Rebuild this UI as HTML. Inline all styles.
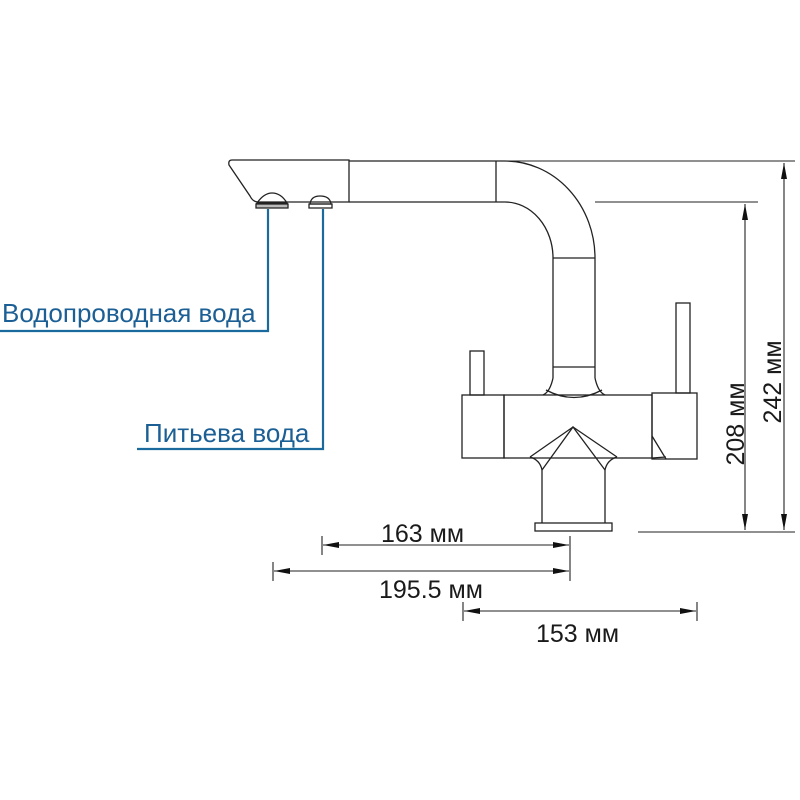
<!DOCTYPE html>
<html><head><meta charset="utf-8"><style>body{margin:0;background:#fff}svg{display:block}</style></head>
<body>
<svg width="800" height="800" viewBox="0 0 800 800" xmlns="http://www.w3.org/2000/svg" font-family="Liberation Sans, sans-serif">
<defs>
<marker id="a" viewBox="0 0 10 10" refX="10" refY="5" markerWidth="16" markerHeight="6" markerUnits="userSpaceOnUse" orient="auto-start-reverse" preserveAspectRatio="none"><path d="M0,0L10,5L0,10z" fill="#111"/></marker>
</defs>
<g fill="none" stroke="#222" stroke-width="1.3">
<path d="M232,160 L349,160 L349,202 L258,202 Q253,202 250,196 L229,165 Q228,160 232,160 Z"/>
<path d="M349,161 L496,161 M349,202 L496,202 M496,161 L496,202"/>
<path d="M257,203 Q264,193 272,193 Q281,193 287,203 Z"/>
<path d="M256,204 L288,204 L288,208 L256,208 Z" fill="#bbb"/>
<path d="M310,204 Q311,196 320,196 Q330,196 331,204 Z"/>
<path d="M309,204 L332,204 L332,208 L309,208 Z"/>
<path d="M496,161 L505,161 A90,97 0 0 1 595,258 L595,378"/>
<path d="M496,202 L505,202 A48,56 0 0 1 553,258 L553,378"/>
<path d="M553,258 L595,258 M553,367 L595,367"/>
<path d="M553,378 Q550,392 543,395 M595,378 Q598,392 605,395"/>
<path d="M546,390 Q574,405 602,390"/>
<rect x="462" y="395" width="42" height="63"/>
<rect x="504" y="395" width="148" height="63"/>
<rect x="652" y="393" width="45" height="66"/>
<path d="M652,436 L666,459 M652,458 L666,457"/>
<rect x="470" y="351" width="14" height="44"/>
<rect x="676" y="303" width="14" height="90"/>
<path d="M530,457 L573,427 L617,457"/>
<path d="M542,470 L573,427 L605,470"/>
<path d="M530,457 Q540,460 542,470 M617,457 Q607,460 605,470"/>
<path d="M542,470 L542,523 M605,470 L605,523"/>
<rect x="535" y="523" width="77" height="8"/>
</g>
<g stroke="#222" stroke-width="1.1" fill="none">
<path d="M496,161 L795,161 M595,202 L758,202 M638,532 L795,532"/>
<path d="M745,204 L745,530" marker-start="url(#a)" marker-end="url(#a)"/>
<path d="M784,163 L784,530" marker-start="url(#a)" marker-end="url(#a)"/>
<path d="M322,536 L322,555 M570,536 L570,581 M273,562 L273,581 M463,602 L463,621 M697,602 L697,621"/>
<path d="M323,545 L569,545" marker-start="url(#a)" marker-end="url(#a)"/>
<path d="M274,571 L569,571" marker-start="url(#a)" marker-end="url(#a)"/>
<path d="M464,611 L696,611" marker-start="url(#a)" marker-end="url(#a)"/>
</g>
<g font-size="25" fill="#1a1a1a">
<text x="381" y="542">163 мм</text>
<text x="379" y="598">195.5 мм</text>
<text x="536" y="642">153 мм</text>
<text transform="translate(744,424) rotate(-90)" text-anchor="middle">208 мм</text>
<text transform="translate(781,382) rotate(-90)" text-anchor="middle">242 мм</text>
</g>
<g stroke="#1b6a9e" stroke-width="2.2" fill="none">
<path d="M268,209 L268,331 L0,331"/>
<path d="M323,209 L323,449 L137,449"/>
</g>
<g font-size="26" fill="#1b5f95">
<text x="2" y="322">Водопроводная вода</text>
<text x="144" y="442">Питьева вода</text>
</g>
</svg>
</body></html>
